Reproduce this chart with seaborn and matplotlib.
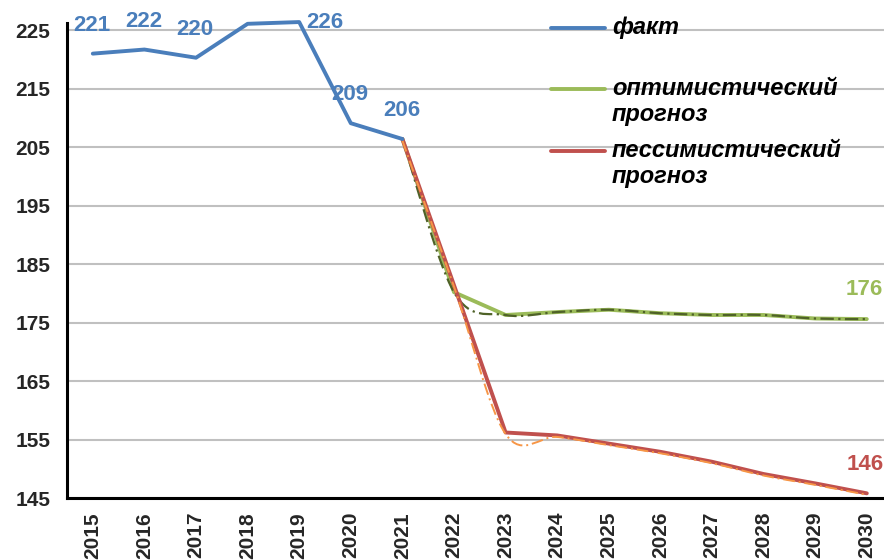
import numpy as np
import pandas as pd
import matplotlib
matplotlib.use("Agg")
import matplotlib.pyplot as plt
import matplotlib.transforms as mtransforms
import seaborn as sns
from matplotlib.path import Path
from matplotlib.patches import PathPatch
from matplotlib.lines import Line2D

# ---------------- data ----------------
years = list(range(2015, 2031))
fact_years = [2015, 2016, 2017, 2018, 2019, 2020, 2021]
fact_vals = [221.0, 221.7, 220.3, 226.1, 226.4, 209.1, 206.4]
fact_label_years = [2015, 2016, 2017, 2019, 2020, 2021]

fc_years = [2021, 2022, 2023, 2024, 2025, 2026, 2027, 2028, 2029, 2030]
opt_vals = [206.4, 180.2, 176.3, 176.8, 177.2, 176.6, 176.3, 176.3, 175.7, 175.6]
pes_vals = [206.4, 181.4, 156.2, 155.7, 154.3, 152.9, 151.2, 149.1, 147.5, 145.8]

legend_labels = ["факт", "оптимистический\nпрогноз", "пессимистический\nпрогноз"]
yticks = list(range(145, 226, 10))

# ---------------- style ----------------
sns.set_style("white")
plt.rcParams["font.family"] = ["Liberation Sans", "DejaVu Sans"]

C_BLUE = "#4A7EBB"
C_GREEN = "#9BBB59"
C_RED = "#C0504D"
C_DKGREEN = "#4F6228"
C_ORANGE = "#F79646"

W, H = 884, 560
fig = plt.figure(figsize=(W / 100, H / 100), dpi=100)
ax = fig.add_axes([67 / W, 1 - 498 / H, (W - 67) / W, (498 - 23) / H])

ax.set_xlim(2014.5, 2014.5 + (W - 67) / 51.6)
ax.set_ylim(145, 145 + (498 - 23) / 5.847)


def smooth_path(xs, ys):
    P = np.column_stack([xs, ys]).astype(float)
    n = len(P)
    verts = [P[0]]
    codes = [Path.MOVETO]
    for i in range(n - 1):
        p0 = P[i - 1] if i > 0 else P[i]
        p3 = P[i + 2] if i + 2 < n else P[i + 1]
        c1 = P[i] + (P[i + 1] - p0) / 6.0
        c2 = P[i + 1] - (p3 - P[i]) / 6.0
        verts += [c1, c2, P[i + 1]]
        codes += [Path.CURVE4] * 3
    return Path(verts, codes)


lw_main = 2.8
sns.lineplot(x=fc_years, y=opt_vals, color=C_GREEN, lw=lw_main, ax=ax,
             legend=False, zorder=2, clip_on=False)
ax.add_patch(PathPatch(smooth_path(fc_years, opt_vals), fill=False,
                       edgecolor=C_DKGREEN, lw=1.6, linestyle=(0, (6, 2, 1, 2)),
                       zorder=3, clip_on=False))
sns.lineplot(x=fc_years, y=pes_vals, color=C_RED, lw=lw_main, ax=ax,
             legend=False, zorder=4, clip_on=False)
shifted = mtransforms.offset_copy(ax.transData, fig=fig, x=0, y=-1.5, units="dots")
ax.add_patch(PathPatch(smooth_path(fc_years, pes_vals), fill=False,
                       edgecolor=C_ORANGE, lw=1.4, linestyle=(0, (6, 2, 1, 2)),
                       zorder=4.5, clip_on=False, transform=shifted))
sns.lineplot(x=fact_years, y=fact_vals, color=C_BLUE, lw=lw_main, ax=ax,
             legend=False, zorder=5, clip_on=False)

# ---------------- data labels ----------------
lab_kw = dict(fontsize=16, fontweight="bold", ha="center", va="center",
              textcoords="offset points", annotation_clip=False)
for yr, v in zip(fact_years, fact_vals):
    if yr not in fact_label_years:
        continue
    off = (18.5, 0) if yr == 2019 else (-0.5, 20.5)
    ax.annotate(f"{v:.0f}", (yr, v), xytext=off, color=C_BLUE, **lab_kw)
ax.annotate(f"{opt_vals[-1]:.0f}", (fc_years[-1], opt_vals[-1]), xytext=(-1.5, 21.5),
            color=C_GREEN, **lab_kw)
ax.annotate(f"{pes_vals[-1]:.0f}", (fc_years[-1], pes_vals[-1]), xytext=(-1.5, 20.5),
            color=C_RED, **lab_kw)

# ---------------- axes ----------------
ax.set_xticks(years)
ax.set_xticklabels([str(y) for y in years], rotation=90, fontsize=15,
                   fontweight="bold")
ax.set_xticks(np.arange(2014.5, 2030.0, 1.0), minor=True)
ax.tick_params(axis="x", which="major", length=0, pad=10)
ax.tick_params(axis="x", which="minor", length=5, width=2, direction="out",
               color="black")
ax.set_yticks(yticks)
ax.set_yticklabels([str(t) for t in yticks], fontsize=15, fontweight="bold")
ax.tick_params(axis="y", which="major", length=8, width=2, direction="inout",
               color="black", pad=8)
ax.set_xlabel("")
ax.set_ylabel("")

ax.yaxis.grid(True, color="#C0C0C0", lw=1.5)
ax.xaxis.grid(False)
ax.set_axisbelow(True)
for s in ["top", "right"]:
    ax.spines[s].set_visible(False)
for s in ["left", "bottom"]:
    ax.spines[s].set_color("black")
    ax.spines[s].set_linewidth(2.2)
    ax.spines[s].set_zorder(6)

# ---------------- legend (manual) ----------------
leg_colors = [C_BLUE, C_GREEN, C_RED]
leg_y = [28, 89, 151]
for lab, col, yy in zip(legend_labels, leg_colors, leg_y):
    fy = 1 - yy / H
    fig.add_artist(Line2D([551 / W, 605 / W], [fy, fy], color=col, lw=2.8,
                          solid_capstyle="round"))
    fig.text(612 / W, 1 - (yy - 12) / H, lab, fontsize=17, fontweight="bold",
             fontstyle="italic", color="black", ha="left", va="top",
             linespacing=1.15)

fig.savefig("out.png", dpi=100)
